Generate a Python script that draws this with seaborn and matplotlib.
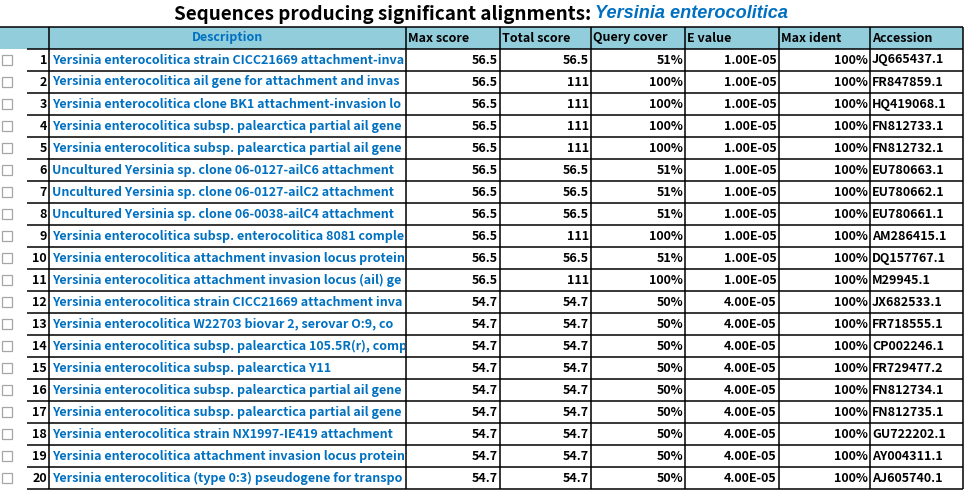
import matplotlib
matplotlib.use("Agg")
import matplotlib.pyplot as plt
from matplotlib.patches import Rectangle
import seaborn as sns

# ── DATA ──────────────────────────────────────────────────────────────────────
HEADERS = ["Description", "Max score", "Total score", "Query cover",
           "E value", "Max ident", "Accession"]

# descriptions as far as they are visible in the (clipped) column
DESCRIPTIONS = [
    "Yersinia enterocolitica strain CICC21669 attachment-inva",
    "Yersinia enterocolitica ail gene for attachment and invas",
    "Yersinia enterocolitica clone BK1 attachment-invasion lo",
    "Yersinia enterocolitica subsp. palearctica partial ail gene",
    "Yersinia enterocolitica subsp. palearctica partial ail gene",
    "Uncultured Yersinia sp. clone 06-0127-ailC6 attachment",
    "Uncultured Yersinia sp. clone 06-0127-ailC2 attachment",
    "Uncultured Yersinia sp. clone 06-0038-ailC4 attachment",
    "Yersinia enterocolitica subsp. enterocolitica 8081 comple",
    "Yersinia enterocolitica attachment invasion locus protein",
    "Yersinia enterocolitica attachment invasion locus (ail) ge",
    "Yersinia enterocolitica strain CICC21669 attachment inva",
    "Yersinia enterocolitica W22703 biovar 2, serovar O:9, co",
    "Yersinia enterocolitica subsp. palearctica 105.5R(r), comp",
    "Yersinia enterocolitica subsp. palearctica Y11",
    "Yersinia enterocolitica subsp. palearctica partial ail gene",
    "Yersinia enterocolitica subsp. palearctica partial ail gene",
    "Yersinia enterocolitica strain NX1997-IE419 attachment",
    "Yersinia enterocolitica attachment invasion locus protein",
    "Yersinia enterocolitica (type 0:3) pseudogene for transpo",
]
MAX_SCORE   = [56.5] * 11 + [54.7] * 9
TOTAL_SCORE = [56.5, 111, 111, 111, 111, 56.5, 56.5, 56.5, 111, 56.5, 111] + [54.7] * 9
QUERY_COVER = [51, 100, 100, 100, 100, 51, 51, 51, 100, 51, 100] + [50] * 9
E_VALUE     = [1e-5] * 11 + [4e-5] * 9
MAX_IDENT   = [100] * 20
ACCESSION = [
    "JQ665437.1", "FR847859.1", "HQ419068.1", "FN812733.1", "FN812732.1",
    "EU780663.1", "EU780662.1", "EU780661.1", "AM286415.1", "DQ157767.1",
    "M29945.1", "JX682533.1", "FR718555.1", "CP002246.1", "FR729477.2",
    "FN812734.1", "FN812735.1", "GU722202.1", "AY004311.1", "AJ605740.1",
]

# ── LAYOUT (pixel coords) ─────────────────────────────────────────────────────
W, H     = 965, 490
HEAD_Y   = 27
ROW_H    = 22
EDGES    = [49, 406, 500, 591, 685, 779, 870, 963]
NUM_X0   = 27
HEAD_BG  = "#92CDDC"
BLUE     = "#0070C0"
FS       = 9.0

sns.set_theme(style="white")
plt.rcParams["font.family"] = ["Noto Sans CJK KR", "DejaVu Sans"]

fig = plt.figure(figsize=(W / 100, H / 100), dpi=100)
ax = fig.add_axes([0, 0, 1, 1])
ax.set_xlim(0, W); ax.set_ylim(H, 0)
ax.axis("off")

n = len(DESCRIPTIONS)
bottom = HEAD_Y + ROW_H * (n + 1)

# header band
ax.add_patch(Rectangle((0, HEAD_Y), EDGES[-1], ROW_H, color=HEAD_BG, lw=0))

# grid lines
lw = 1.1
ax.hlines(HEAD_Y, 0, EDGES[-1], color="black", lw=lw)
ax.hlines([HEAD_Y + ROW_H * (i + 1) for i in range(n + 1)], NUM_X0, EDGES[-1],
          color="black", lw=lw)
ax.vlines(EDGES, HEAD_Y, bottom, color="black", lw=lw)

# header text
hy = HEAD_Y + ROW_H / 2
ax.text((EDGES[0] + EDGES[1]) / 2, hy, HEADERS[0], color=BLUE, fontsize=FS,
        fontweight="bold", ha="center", va="center")
for j, h in enumerate(HEADERS[1:], start=1):
    ax.text(EDGES[j] + 2, hy, h, color="black", fontsize=FS,
            fontweight="bold", ha="left", va="center")

# rows
for i in range(n):
    y0 = HEAD_Y + ROW_H * (i + 1)
    yc = y0 + ROW_H / 2
    # checkbox
    ax.add_patch(Rectangle((2, yc - 5), 10, 10, facecolor="white",
                           edgecolor="#a6a6a6", lw=0.9))
    ax.text(EDGES[0] - 2, yc, str(i + 1), fontsize=FS, fontweight="bold",
            ha="right", va="center", color="black")
    t = ax.text(EDGES[0] + 3, yc, DESCRIPTIONS[i], fontsize=FS, fontweight="bold",
                ha="left", va="center", color=BLUE, clip_on=True)
    t.set_clip_path(Rectangle((EDGES[0], y0), EDGES[1] - EDGES[0] - 1, ROW_H,
                              transform=ax.transData))
    vals = [f"{MAX_SCORE[i]:g}", f"{TOTAL_SCORE[i]:g}", f"{QUERY_COVER[i]}%",
            f"{E_VALUE[i]:.2E}", f"{MAX_IDENT[i]}%"]
    for j, v in enumerate(vals, start=1):
        ax.text(EDGES[j + 1] - 2, yc, v, fontsize=FS, fontweight="bold",
                ha="right", va="center", color="black")
    ax.text(EDGES[6] + 2, yc, ACCESSION[i], fontsize=FS, fontweight="bold",
            ha="left", va="center", color="black")

# title: black part + blue italic species name, centred together
renderer = fig.canvas.get_renderer()
t1 = ax.text(0, 14, "Sequences producing significant alignments: ", fontsize=13.6,
             fontweight="bold", ha="left", va="center", color="black")
t2 = ax.text(0, 14, "Yersinia enterocolitica", fontsize=13.1, fontweight="bold",
             style="italic", family=["Liberation Sans", "DejaVu Sans"],
             ha="left", va="center", color=BLUE)
w1 = t1.get_window_extent(renderer).width
w2 = t2.get_window_extent(renderer).width
x0 = 481 - (w1 + w2) / 2
t1.set_x(x0); t2.set_x(x0 + w1)

fig.savefig("out.png", dpi=100, facecolor="white")
